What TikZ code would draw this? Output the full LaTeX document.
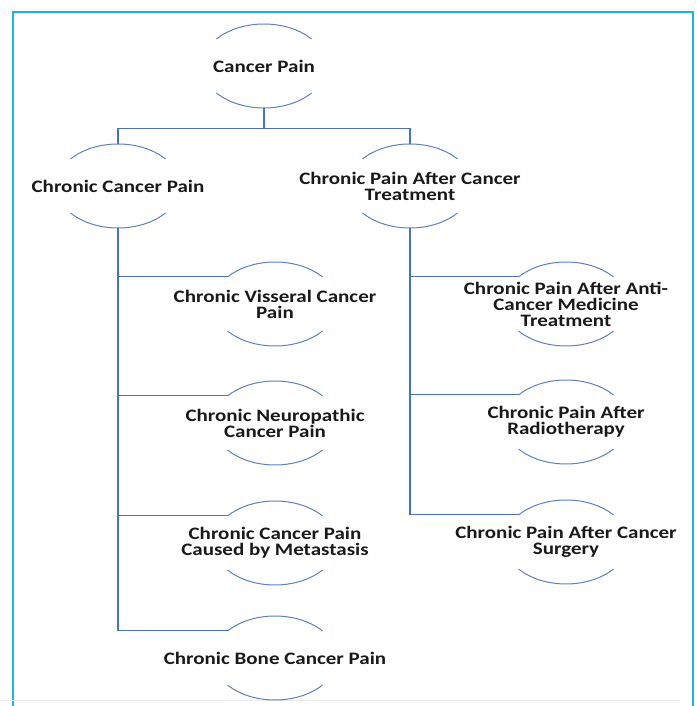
\documentclass[tikz,border=0pt]{standalone}
\usepackage{fontspec}
\setmainfont{Carlito}
\usetikzlibrary{shapes.geometric}
\definecolor{frameblue}{HTML}{1EB4E1}
\definecolor{linkblue}{HTML}{4A72C0}
\definecolor{arcblue}{HTML}{5B80C8}

\begin{document}
\begin{tikzpicture}[x=1pt,y=1pt,
  ring/.style={ellipse, minimum width=124pt, minimum height=84pt, inner sep=0pt},
  caption/.style={font=\bfseries\fontsize{17.5}{16}\selectfont, align=center, text=black!90,
    inner sep=1pt, xscale=1.2, transform shape},
  link/.style={linkblue, line width=1.3pt},
  ringarc/.style={arcblue, line width=1pt}]
\useasboundingbox (0,0) rectangle (696,706);

% frame
\draw[frameblue, line width=1.6pt] (13,0)--(13,694)--(693,694)--(693,0);
\draw[black!8, line width=0.6pt] (0,6)--(680,6);

% rings
\node[ring] (cp) at (264,640) {};
\node[ring] (ccp) at (118,520) {};
\node[ring] (cpt) at (410,520) {};
\node[ring] (visc) at (275,402) {};
\node[ring] (neur) at (275,283) {};
\node[ring] (meta) at (275,163) {};
\node[ring] (bone) at (275,48) {};
\node[ring] (anti) at (566,402) {};
\node[ring] (radio) at (566,284) {};
\node[ring] (surg) at (566,164) {};

\foreach \n in {cp,ccp,cpt,visc,neur,meta,bone,anti,radio,surg}{
  \draw[ringarc] (\n.center) ++(40:62 and 42) arc[start angle=40, end angle=140, x radius=62, y radius=42];
  \draw[ringarc] (\n.center) ++(220:62 and 42) arc[start angle=220, end angle=320, x radius=62, y radius=42];
}

% texts
\node[caption] (cp-t) at (cp) {Cancer Pain};
\node[caption] (ccp-t) at (ccp) {Chronic Cancer Pain};
\node[caption] (cpt-t) at (cpt) {Chronic Pain After Cancer\\Treatment};
\node[caption] (visc-t) at (visc) {Chronic Visseral Cancer\\Pain};
\node[caption] (neur-t) at (neur) {Chronic Neuropathic\\Cancer Pain};
\node[caption] (meta-t) at (meta) {Chronic Cancer Pain\\Caused by Metastasis};
\node[caption] (bone-t) at (bone) {Chronic Bone Cancer Pain};
\node[caption] (anti-t) at (anti) {Chronic Pain After Anti-\\Cancer Medicine\\Treatment};
\node[caption] (radio-t) at (radio) {Chronic Pain After\\Radiotherapy};
\node[caption] (surg-t) at (surg) {Chronic Pain After Cancer\\Surgery};

% connectors
\draw[link] (cp.south) -- ++(0,-20) coordinate (bus);
\draw[link] (ccp.north) |- (bus) -| (cpt.north);

\draw[link] (ccp.south) |- (bone.150);
\draw[link] (ccp.south |- visc.150) -- (visc.150);
\draw[link] (ccp.south |- neur.150) -- (neur.150);
\draw[link] (ccp.south |- meta.150) -- (meta.150);

\draw[link] (cpt.south) |- (surg.150);
\draw[link] (cpt.south |- anti.150) -- (anti.150);
\draw[link] (cpt.south |- radio.150) -- (radio.150);

\end{tikzpicture}
\end{document}
